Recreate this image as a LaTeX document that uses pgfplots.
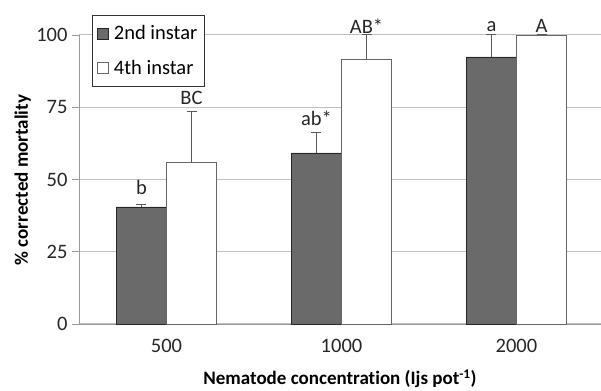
\documentclass[border=0pt]{standalone}
\usepackage{pgfplots}
\pgfplotsset{compat=1.18}
\usepackage{fontspec}
\setmainfont{Carlito}[Ligatures={NoCommon}]
\definecolor{darkbar}{HTML}{6A6A6A}
\definecolor{gridc}{HTML}{BFBFBF}
\definecolor{axisc}{HTML}{9A9A9A}
\definecolor{errc}{HTML}{5A5A5A}
\begin{document}
\begin{tikzpicture}[x=1pt,y=1pt]
\useasboundingbox (0,0) rectangle (601,390);
\begin{axis}[
  at={(79pt,66pt)}, anchor=south west,
  scale only axis, width=522pt, height=289pt,
  xmin=-0.5, xmax=2.483, ymin=0, ymax=100,
  axis x line*=bottom, axis y line*=left,
  axis line style={color=axisc, line width=0.8pt},
  xtick={0,1,2}, xticklabels={500,1000,2000},
  extra x ticks={0.5,1.5}, extra x tick labels={},
  extra x tick style={major tick length=7pt, tick style={color=axisc, line width=0.8pt}, grid=none},
  ytick={0,25,50,75,100},
  ymajorgrids, grid style={color=gridc, line width=1pt},
  major x tick style={draw=none},
  tick align=outside, major tick length=7pt,
  tick style={color=axisc, line width=0.8pt},
  /pgf/number format/assume math mode=true,
  tick label style={font=\fontsize{20.5}{22}\selectfont, color=black!85},
  xticklabel style={yshift=-5pt},
  yticklabel style={xshift=-1pt},
  xlabel={\textbf{Nematode concentration (Ijs pot\textsuperscript{-1})}},
  ylabel={\textbf{\% corrected mortality}},
  label style={font=\fontsize{19}{22}\selectfont},
  xlabel style={at={(axis description cs:0.5,-0.19)}, anchor=center},
  ylabel style={at={(axis description cs:-0.108,0.498)}, anchor=center, rotate=0},
  ybar, bar width=0.286,
  legend style={at={(axis description cs:0.025,1.069)}, anchor=north west,
    draw=black!80, line width=0.8pt, font=\fontsize{20.5}{22}\selectfont,
    inner xsep=5pt, inner ysep=8pt, row sep=15pt, cells={anchor=west},
    /tikz/every odd column/.append style={column sep=3pt}},
  legend image code/.code={\draw[#1, line width=0.5pt] (4pt,-5.5pt) rectangle (15pt,5.5pt);},
  clip=false,
]
\addplot[bar shift=-0.143, fill=darkbar, draw=black!85, line width=0.8pt,
  error bars/.cd, y dir=plus, y explicit,
  error bar style={color=errc, line width=1pt},
  error mark options={rotate=90, mark size=5pt, color=errc, line width=1pt}]
  coordinates {(0,40.5) +- (0,0.9) (1,59.2) +- (0,7.2) (2,92.4) +- (0,7.6)};
\addplot[bar shift=0.143, fill=white, draw=black!60, line width=0.8pt,
  error bars/.cd, y dir=plus, y explicit,
  error bar style={color=errc, line width=1pt},
  error mark options={rotate=90, mark size=5pt, color=errc, line width=1pt}]
  coordinates {(0,55.8) +- (0,17.9) (1,91.7) +- (0,8.3) (2,100) +- (0,0)};
\legend{2nd instar, 4th instar}
\begin{scope}[font=\fontsize{20.5}{22}\selectfont, color=black!85]
\node at (axis cs:-0.143,47.3) {b};
\node at (axis cs:0.143,78.2) {BC};
\node at (axis cs:0.857,71.2) {ab*};
\node at (axis cs:1.143,103) {AB*};
\node at (axis cs:1.857,103) {a};
\node at (axis cs:2.143,103.3) {A};
\end{scope}
\end{axis}
\end{tikzpicture}
\end{document}
